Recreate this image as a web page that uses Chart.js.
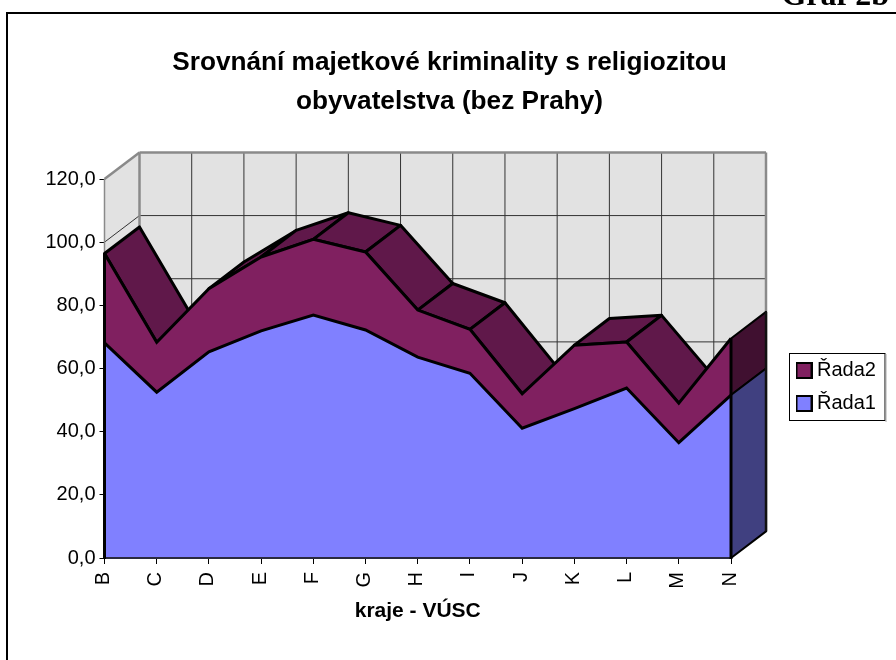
<!DOCTYPE html>
<html><head><meta charset="utf-8">
<style>html,body{margin:0;padding:0;background:#fff}#w{position:absolute;left:0;top:0;width:896px;height:660px}</style>
<script src="https://cdn.jsdelivr.net/npm/chart.js@4/dist/chart.umd.min.js"></script>
</head><body><div id="w"><canvas id="c" width="896" height="660"></canvas></div>
<script>
const categories = ['B','C','D','E','F','G','H','I','J','K','L','M','N'];
const rada1 = [68.1,52.5,65.3,71.9,76.9,72.2,63.6,58.5,41.1,47.3,53.8,36.5,51.6];
const rada2 = [28.3,15.8,20.0,23.4,24.0,24.7,14.9,13.9,10.9,20.1,14.6,12.5,17.9];
const titleLines = ['Srovnání majetkové kriminality s religiozitou','obyvatelstva (bez Prahy)'];
const xTitle = 'kraje - VÚSC';
const cornerLabel = 'Graf 2b';

const depth = {x:35, y:-26.6};
const COL = {wall:'#e2e2e2', edge:'#8a8a8a', grid:'#333', r1:'#8080ff', r2:'#802060', r2top:'#60184a', r1side:'#404080', r2side:'#401030'};

function swatch(color){
  const c=document.createElement('canvas'); c.width=17; c.height=17;
  const g=c.getContext('2d'); g.fillStyle=color; g.fillRect(1,1,15,15);
  g.strokeStyle='#000'; g.lineWidth=2; g.strokeRect(1,1,15,15); return c;
}
function poly(ctx,pts,fill,stroke,lw){
  ctx.beginPath(); pts.forEach((p,i)=>i?ctx.lineTo(p.x,p.y):ctx.moveTo(p.x,p.y)); ctx.closePath();
  if(fill){ctx.fillStyle=fill;ctx.fill();}
  if(stroke){ctx.strokeStyle=stroke;ctx.lineWidth=lw;ctx.stroke();}
}
function seg(ctx,x1,y1,x2,y2,col,lw){ctx.beginPath();ctx.moveTo(x1,y1);ctx.lineTo(x2,y2);ctx.strokeStyle=col;ctx.lineWidth=lw;ctx.stroke();}
const back=p=>({x:p.x+depth.x,y:p.y+depth.y});

const chart3d = {
  id:'chart3d',
  beforeLayout(chart){
    const lg=chart.legend;
    if(lg && !lg.__w){const f=lg.fit.bind(lg); lg.fit=()=>{f(); lg.width=165;}; lg.__w=true;}
  },
  afterLayout(chart){
    const lg=chart.legend;
    lg.left=788; lg.right=890; lg.width=102; lg.top=347.5; lg.bottom=500; lg.height=152.5;
    lg.adjustHitBoxes();
  },
  beforeDraw(chart){
    const ctx=chart.ctx; ctx.save();
    seg(ctx,7,13,7,660,'#000',2); seg(ctx,6,13,896,13,'#000',2);
    ctx.fillStyle='#000'; ctx.font='bold 32px "Liberation Serif"'; ctx.textAlign='right'; ctx.textBaseline='alphabetic';
    ctx.fillText(cornerLabel,889,5);
    ctx.strokeStyle='#000'; ctx.lineWidth=1; ctx.strokeRect(789.5,353.5,95.5,67);
    seg(ctx,886,354,886,422,'#aaa',1);
    ctx.restore();
  },
  beforeDatasetsDraw(chart){
    const ctx=chart.ctx,{x:sx,y:sy}=chart.scales,a=chart.chartArea; ctx.save();
    const L=a.left,R=a.right,T=a.top,B=a.bottom,dx=depth.x,dy=depth.y;
    // walls
    poly(ctx,[{x:L,y:T},{x:L+dx,y:T+dy},{x:L+dx,y:B+dy},{x:L,y:B}],COL.wall);
    poly(ctx,[{x:L+dx,y:T+dy},{x:R+dx,y:T+dy},{x:R+dx,y:B+dy},{x:L+dx,y:B+dy}],COL.wall);
    // grid on walls
    sy.ticks.forEach(t=>{
      const y=sy.getPixelForValue(t.value);
      if(t.value>0&&t.value<120){
        seg(ctx,L,y,L+dx,y+dy,COL.grid,1);
        seg(ctx,L+dx,y+dy,R+dx,y+dy,COL.grid,1);
      }
    });
    categories.forEach((c,i)=>{
      const x=sx.getPixelForValue(i);
      if(i>0&&i<categories.length-1) seg(ctx,x+dx,T+dy,x+dx,B+dy,COL.grid,1);
    });
    seg(ctx,L,T,L+dx,T+dy,COL.edge,2.5);
    seg(ctx,L,T,L,B,COL.edge,1.5);
    seg(ctx,L+dx,T+dy,R+dx,T+dy,COL.edge,2.5);
    seg(ctx,L+dx,T+dy,L+dx,B+dy,COL.edge,2.5);
    seg(ctx,R+dx,T+dy,R+dx,B+dy,COL.edge,2.5);
    // top faces of the upper series
    const top=chart.getDatasetMeta(1).data, low=chart.getDatasetMeta(0).data;
    ctx.lineJoin='round';
    for(let i=0;i<top.length-1;i++){
      const p=top[i],q=top[i+1];
      const facing=(q.x-p.x)*dy-(q.y-p.y)*dx;
      if(facing<0) poly(ctx,[p,q,back(q),back(p)],COL.r2top,'#000',3);
    }
    // right end cap
    const n=top.length-1, base={x:R,y:B};
    poly(ctx,[low[n],top[n],back(top[n]),back(low[n])],COL.r2side,'#000',2);
    poly(ctx,[base,low[n],back(low[n]),back(base)],COL.r1side,'#000',2);
    seg(ctx,R+dx,back(top[n]).y,R+dx,B+dy,'#111',2.5);
    ctx.restore();
  },
  afterDatasetsDraw(chart){
    const ctx=chart.ctx,a=chart.chartArea; ctx.save();
    const top=chart.getDatasetMeta(1).data,n=top.length-1;
    seg(ctx,a.left,a.bottom,a.right,a.bottom,'#2a2a40',2);
    seg(ctx,a.left,a.bottom+1,a.left,top[0].y,'#000',3);
    seg(ctx,a.right,a.bottom+1,a.right,top[n].y,'#000',3);
    ctx.restore();
  }
};

Chart.defaults.font.family='"Liberation Sans", Arial, sans-serif';
Chart.defaults.color='#000';
new Chart(document.getElementById('c'),{
  type:'line',
  data:{labels:categories,datasets:[
    {label:'Řada1',data:rada1,backgroundColor:COL.r1,borderColor:'#000',borderWidth:3,fill:'origin',tension:0,pointRadius:0,pointStyle:swatch(COL.r1),clip:false},
    {label:'Řada2',data:rada2,backgroundColor:COL.r2,borderColor:'#000',borderWidth:3,fill:'-1',tension:0,pointRadius:0,pointStyle:swatch(COL.r2),clip:false}
  ]},
  options:{
    responsive:false,animation:false,events:[],
    layout:{padding:{left:3,right:0,top:43.5,bottom:36}},
    plugins:{
      title:{display:true,text:titleLines,color:'#000',font:{size:26.2,weight:'bold',lineHeight:39/26.2},padding:{top:0,bottom:57.5}},
      legend:{display:true,position:'right',align:'start',reverse:true,
        labels:{usePointStyle:true,boxWidth:6,boxHeight:14,padding:13,color:'#000',font:{size:20}}},
      tooltip:{enabled:false}
    },
    scales:{
      x:{type:'category',offset:false,
        afterFit(s){s.height=66;},
        border:{display:false},
        grid:{drawOnChartArea:false,drawTicks:true,tickLength:6,tickColor:'#000',offset:false},
        ticks:{autoSkip:false,maxRotation:90,minRotation:90,padding:8,font:{size:20},color:'#000',labelOffset:-1},
        title:{display:true,text:xTitle,font:{size:21,weight:'bold'},color:'#000',padding:0}
      },
      y:{stacked:true,min:0,max:120,
        afterFit(s){s.width=101.5;},
        border:{display:false},
        grid:{drawOnChartArea:false,drawTicks:true,tickLength:5,tickColor:'#000'},
        ticks:{stepSize:20,padding:4,font:{size:20},color:'#000',callback:v=>v.toFixed(1).replace('.',',')}
      }
    }
  },
  plugins:[chart3d]
});
</script></body></html>
